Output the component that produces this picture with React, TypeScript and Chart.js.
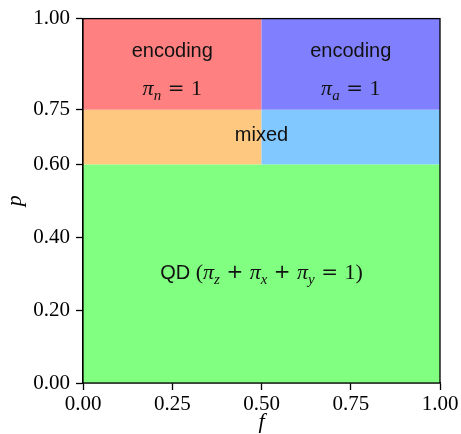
import React, { useEffect, useRef } from 'react';
import { Chart, registerables } from 'chart.js';

Chart.register(...registerables);

// Regions of the (f, p) phase diagram
const regionNames = ['QD', 'mixed (n)', 'mixed (a)', 'encoding n', 'encoding a'];
const regionF0 = [0, 0, 0.5, 0, 0.5];
const regionF1 = [1, 0.5, 1, 0.5, 1];
const regionP0 = [0, 0.6, 0.6, 0.75, 0.75];
const regionP1 = [0.6, 0.75, 0.75, 1, 1];
const regionColors = ['#80ff80', '#ffc880', '#80c8ff', '#ff8080', '#8080ff'];

// Tick labels
const xTicks = [0, 0.25, 0.5, 0.75, 1];
const yTicks = [0, 0.2, 0.4, 0.6, 0.75, 1];

// Text annotations (data coordinates)
type Seg = { t: string; k: 'sans' | 'mi' | 'sub' | 'rm' | 'op' | 'gap' };
const labelF = [0.25, 0.75, 0.25, 0.75, 0.5, 0.5];
const labelP = [0.915, 0.915, 0.81, 0.81, 0.683, 0.305];
const labelRuns: Seg[][] = [
  [{ t: 'encoding', k: 'sans' }],
  [{ t: 'encoding', k: 'sans' }],
  [{ t: 'π', k: 'mi' }, { t: 'n', k: 'sub' }, { t: '', k: 'gap' }, { t: '=', k: 'op' }, { t: '', k: 'gap' }, { t: '1', k: 'rm' }],
  [{ t: 'π', k: 'mi' }, { t: 'a', k: 'sub' }, { t: '', k: 'gap' }, { t: '=', k: 'op' }, { t: '', k: 'gap' }, { t: '1', k: 'rm' }],
  [{ t: 'mixed', k: 'sans' }],
  [
    { t: 'QD ', k: 'sans' }, { t: '(', k: 'rm' },
    { t: 'π', k: 'mi' }, { t: 'z', k: 'sub' }, { t: '', k: 'gap' }, { t: '+', k: 'op' }, { t: '', k: 'gap' },
    { t: 'π', k: 'mi' }, { t: 'x', k: 'sub' }, { t: '', k: 'gap' }, { t: '+', k: 'op' }, { t: '', k: 'gap' },
    { t: 'π', k: 'mi' }, { t: 'y', k: 'sub' }, { t: '', k: 'gap' }, { t: '=', k: 'op' }, { t: '', k: 'gap' },
    { t: '1)', k: 'rm' },
  ],
];

const FONTS: Record<string, string> = {
  sans: '20px "Liberation Sans"',
  mi: 'italic 22px "Liberation Serif"',
  sub: 'italic 15px "Liberation Serif"',
  rm: '22px "Liberation Serif"',
  op: '20px "DejaVu Sans"',
  gap: '20px "DejaVu Sans"',
};
const SUB_DY: Record<string, number> = { sans: 0, mi: 0, sub: 5, rm: 0, op: -1, gap: 0 };
const GAP_W = 6.5;

const regionsPlugin = {
  id: 'regions',
  beforeDatasetsDraw(chart: any) {
    const { ctx, scales } = chart;
    const xs = scales.x;
    const ys = scales.y;
    ctx.save();
    for (let i = 0; i < regionNames.length; i++) {
      const x0 = xs.getPixelForValue(regionF0[i]);
      const x1 = xs.getPixelForValue(regionF1[i]);
      const y0 = ys.getPixelForValue(regionP0[i]);
      const y1 = ys.getPixelForValue(regionP1[i]);
      ctx.fillStyle = regionColors[i];
      ctx.fillRect(x0, y1, x1 - x0, y0 - y1);
    }
    ctx.restore();
  },
  afterDatasetsDraw(chart: any) {
    const { ctx, scales, chartArea } = chart;
    const xs = scales.x;
    const ys = scales.y;
    ctx.save();
    ctx.fillStyle = '#111';
    ctx.textBaseline = 'alphabetic';
    ctx.textAlign = 'left';
    for (let i = 0; i < labelRuns.length; i++) {
      const runs = labelRuns[i];
      let total = 0;
      const widths = runs.map((r) => {
        if (r.k === 'gap') {
          total += GAP_W;
          return GAP_W;
        }
        ctx.font = FONTS[r.k];
        const w = ctx.measureText(r.t).width;
        total += w;
        return w;
      });
      const cx = xs.getPixelForValue(labelF[i]);
      const cy = ys.getPixelForValue(labelP[i]);
      let x = cx - total / 2;
      const base = cy + 7;
      runs.forEach((r, j) => {
        if (r.k !== 'gap') {
          ctx.font = FONTS[r.k];
          ctx.fillText(r.t, x, base + SUB_DY[r.k]);
        }
        x += widths[j];
      });
    }
    ctx.strokeStyle = '#000';
    ctx.lineWidth = 1.3;
    ctx.strokeRect(chartArea.left, chartArea.top, chartArea.right - chartArea.left, chartArea.bottom - chartArea.top);
    ctx.restore();
  },
};

const tickFont = { family: '"Liberation Serif"', size: 21 };
const titleFont = { family: '"Liberation Serif"', size: 22, style: 'italic' as const };

export default function App() {
  const ref = useRef<HTMLCanvasElement | null>(null);
  useEffect(() => {
    document.body.style.margin = '0';
    const canvas = ref.current!;
    const chart = new Chart(canvas, {
      type: 'scatter',
      data: { datasets: [{ data: [], pointRadius: 0 }] },
      options: {
        animation: false,
        responsive: false,
        devicePixelRatio: 1,
        layout: { padding: { left: 0, top: 15, right: 21, bottom: 0 } },
        plugins: { legend: { display: false }, tooltip: { enabled: false } },
        scales: {
          x: {
            type: 'linear',
            min: 0,
            max: 1,
            afterBuildTicks: (s: any) => {
              s.ticks = xTicks.map((value) => ({ value }));
            },
            afterFit: (s: any) => {
              s.height = 51;
            },
            ticks: {
              callback: (v: any) => Number(v).toFixed(2),
              font: tickFont,
              color: '#000',
              padding: 2,
              maxRotation: 0,
            },
            grid: { drawOnChartArea: false, drawTicks: true, tickLength: 7, tickColor: '#000', tickWidth: 1.3 },
            border: { display: true, color: '#000', width: 1.3 },
            title: { display: true, text: 'f', font: titleFont, color: '#000', padding: { top: 0, bottom: -1 } },
          },
          y: {
            type: 'linear',
            min: 0,
            max: 1,
            afterBuildTicks: (s: any) => {
              s.ticks = yTicks.map((value) => ({ value }));
            },
            afterFit: (s: any) => {
              s.width = 83;
            },
            ticks: {
              callback: (v: any) => Number(v).toFixed(2),
              font: tickFont,
              color: '#000',
              padding: 6,
            },
            grid: { drawOnChartArea: false, drawTicks: true, tickLength: 7, tickColor: '#000', tickWidth: 1.3 },
            border: { display: true, color: '#000', width: 1.3 },
            title: { display: true, text: 'p', font: titleFont, color: '#000', padding: { top: 2, bottom: 0 } },
          },
        },
      },
      plugins: [regionsPlugin],
    });
    return () => chart.destroy();
  }, []);
  return <canvas ref={ref} width={461} height={434} style={{ display: 'block' }} />;
}
